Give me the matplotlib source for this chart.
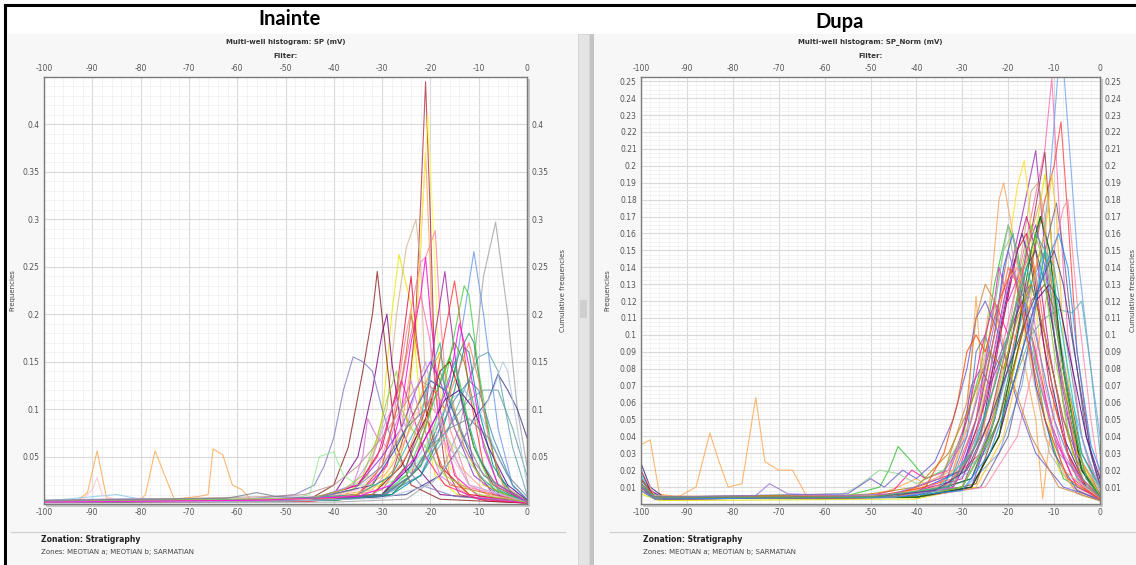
import numpy as np
import matplotlib
matplotlib.use("Agg")
import matplotlib.pyplot as plt
from matplotlib.patches import Rectangle
from matplotlib.lines import Line2D
from matplotlib.ticker import MultipleLocator

plt.rcParams["axes.unicode_minus"] = False

# ---- data: (SP mV, frequency) knots per well ----
inainte_series = [
    [(-100, .003), (-93, .004), (-91, .012), (-89, .056), (-87, .005), (-80, .004), (-79, .01), (-77, .056),
     (-75, .03), (-73, .005), (-68, .008), (-66, .01), (-65, .058), (-63, .052), (-61, .02), (-59, .015),
     (-57, .004), (-50, .005), (-45, .004), (-40, .006), (-35, .01), (-30, .03), (-26, .08), (-23, .18),
     (-21, .37), (-19, .12), (-16, .03), (-12, .008), (-6, .003), (0, .001)],
    [(-100, .002), (-70, .003), (-45, .004), (-35, .01), (-28, .03), (-25, .08), (-23, .2), (-22, .32),
     (-21, .445), (-20, .3), (-19, .12), (-17, .04), (-14, .01), (-8, .003), (0, .001)],
    [(-100, .002), (-60, .003), (-40, .004), (-30, .02), (-25, .08), (-23, .18), (-22, .28), (-20.5, .41),
     (-19.5, .3), (-18, .12), (-16, .04), (-12, .01), (0, .001)],
    [(-100, .002), (-50, .003), (-38, .008), (-33, .03), (-30, .09), (-28, .2), (-26.5, .263), (-24, .21),
     (-22, .1), (-19, .03), (-14, .008), (0, .001)],
    [(-100, .003), (-60, .004), (-40, .006), (-33, .03), (-29, .1), (-27, .2), (-25, .27), (-23, .30),
     (-22, .25), (-21, .12), (-18, .04), (-12, .01), (0, .002)],
    [(-100, .001), (-40, .002), (-25, .005), (-18, .03), (-14, .08), (-11, .15), (-9, .24), (-6.5, .297),
     (-4, .2), (-2, .1), (0, .04)],
    [(-100, .002), (-50, .003), (-30, .008), (-22, .03), (-18, .08), (-15, .14), (-13, .2), (-11, .266),
     (-9, .2), (-6, .08), (-3, .02), (0, .005)],
    [(-100, .002), (-45, .004), (-32, .02), (-28, .08), (-25, .18), (-22, .255), (-21, .26), (-19, .288),
     (-18, .2), (-16, .08), (-12, .02), (-6, .004), (0, .001)],
    [(-100, .002), (-60, .003), (-45, .005), (-40, .02), (-37, .06), (-34, .14), (-32, .2), (-31, .245),
     (-29, .15), (-27, .06), (-24, .02), (-18, .005), (0, .001)],
    [(-100, .002), (-50, .004), (-35, .01), (-29, .04), (-26, .1), (-24, .17), (-22, .22), (-21, .26),
     (-20, .2), (-18, .1), (-15, .03), (-10, .008), (0, .001)],
    [(-100, .002), (-45, .003), (-30, .01), (-25, .04), (-21, .1), (-19, .18), (-17, .245), (-16, .2),
     (-14, .12), (-11, .04), (-7, .01), (0, .002)],
    [(-100, .002), (-45, .003), (-30, .008), (-24, .03), (-20, .1), (-17, .18), (-15, .235), (-14, .2),
     (-12, .12), (-9, .04), (-5, .01), (0, .002)],
    [(-100, .002), (-40, .004), (-28, .01), (-22, .04), (-18, .1), (-15, .18), (-13, .23), (-12, .22),
     (-10, .14), (-7, .05), (-4, .01), (0, .002)],
    [(-100, .002), (-50, .004), (-40, .01), (-35, .05), (-32, .12), (-30, .18), (-29, .2), (-28, .15),
     (-26, .08), (-23, .04), (-18, .01), (0, .002)],
    [(-100, .003), (-60, .004), (-48, .01), (-44, .02), (-42, .04), (-40, .07), (-38, .12), (-36, .155),
     (-34, .15), (-32, .14), (-30, .1), (-27, .05), (-22, .02), (-15, .008), (0, .002)],
    [(-100, .002), (-40, .004), (-25, .01), (-18, .03), (-14, .06), (-11, .09), (-8, .11), (-6, .137),
     (-4, .12), (-2, .1), (0, .07)],
    [(-100, .003), (-50, .004), (-30, .01), (-22, .03), (-17, .07), (-13, .12), (-10, .155), (-8, .16),
     (-6, .14), (-3, .06), (0, .01)],
    [(-100, .002), (-40, .004), (-30, .01), (-25, .04), (-20, .1), (-17, .14), (-15, .17), (-13, .15),
     (-10, .08), (-6, .02), (0, .003)],
    [(-100, .003), (-45, .005), (-32, .02), (-27, .06), (-23, .1), (-20, .13), (-17, .12), (-14, .08),
     (-10, .03), (-5, .008), (0, .002)],
    [(-100, .002), (-45, .004), (-35, .02), (-30, .06), (-27, .12), (-25, .2), (-24, .24), (-23, .18),
     (-21, .1), (-18, .04), (-12, .01), (0, .002)],
    [(-100, .002), (-45, .004), (-36, .02), (-34, .05), (-33, .09), (-31, .07), (-29, .06), (-26, .1),
     (-24, .13), (-22, .09), (-18, .03), (-12, .008), (0, .002)],
    [(-100, .002), (-40, .004), (-28, .01), (-22, .04), (-17, .1), (-14, .16), (-12, .18), (-11, .17),
     (-9, .1), (-6, .03), (-2, .005), (0, .002)],
    [(-100, .003), (-50, .004), (-35, .01), (-30, .04), (-27, .1), (-24, .18), (-22, .22), (-20, .17),
     (-18, .08), (-14, .02), (0, .002)],
    [(-100, .003), (-85, .01), (-80, .005), (-45, .004), (-32, .01), (-25, .03), (-20, .07), (-16, .11),
     (-13, .12), (-10, .1), (-6, .05), (-2, .01), (0, .003)],
    [(-100, .002), (-45, .004), (-35, .01), (-30, .04), (-27, .1), (-25, .16), (-24, .2), (-22, .14),
     (-20, .07), (-16, .02), (0, .002)],
    [(-100, .002), (-40, .004), (-28, .01), (-22, .03), (-18, .07), (-15, .12), (-13, .165), (-12, .16),
     (-10, .1), (-7, .04), (-3, .01), (0, .003)],
    [(-100, .003), (-45, .005), (-35, .02), (-30, .05), (-26, .08), (-23, .12), (-20, .15), (-18, .13),
     (-15, .08), (-11, .03), (-5, .006), (0, .002)],
    [(-100, .002), (-60, .004), (-48, .006), (-45, .01), (-43, .05), (-40, .055), (-38, .03), (-35, .02),
     (-30, .02), (-25, .03), (-20, .06), (-17, .07), (-13, .05), (-8, .02), (0, .003)],
    [(-100, .003), (-45, .005), (-30, .01), (-24, .03), (-19, .06), (-15, .09), (-12, .11), (-9, .12),
     (-6, .12), (-3, .08), (0, .03)],
    [(-100, .002), (-45, .004), (-32, .01), (-26, .04), (-21, .09), (-18, .14), (-16, .15), (-14, .12),
     (-11, .06), (-7, .02), (0, .002)],
    [(-100, .002), (-45, .004), (-32, .01), (-27, .04), (-23, .1), (-20, .14), (-18, .16), (-16, .12),
     (-13, .06), (-9, .02), (0, .002)],
    [(-100, .003), (-45, .004), (-30, .008), (-24, .03), (-19, .07), (-15, .11), (-12, .13), (-10, .12),
     (-7, .07), (-3, .02), (0, .005)],
    [(-100, .002), (-45, .004), (-35, .02), (-31, .05), (-28, .1), (-26, .13), (-24, .1), (-21, .05),
     (-17, .02), (-10, .005), (0, .001)],
    [(-100, .002), (-45, .004), (-30, .01), (-25, .03), (-21, .08), (-18, .13), (-16, .155), (-14, .13),
     (-11, .06), (-7, .015), (0, .002)],
    [(-100, .002), (-45, .004), (-30, .01), (-24, .04), (-20, .08), (-17, .11), (-14, .12), (-11, .1),
     (-8, .06), (-4, .02), (0, .004)],
    [(-100, .003), (-45, .005), (-32, .015), (-28, .04), (-24, .08), (-21, .11), (-18, .09), (-14, .04),
     (-8, .01), (0, .002)],
    [(-100, .002), (-45, .004), (-30, .01), (-24, .03), (-20, .06), (-16, .08), (-12, .09), (-8, .07),
     (-4, .03), (0, .008)],
    [(-100, .002), (-92, .005), (-90, .015), (-89, .028), (-88, .01), (-85, .004), (-60, .004), (-45, .005),
     (-35, .015), (-30, .04), (-26, .08), (-22, .1), (-18, .07), (-12, .02), (0, .002)],
    [(-100, .004), (-80, .006), (-70, .004), (-55, .006), (-42, .008), (-36, .02), (-32, .05), (-29, .09),
     (-27, .11), (-25, .08), (-23, .12), (-21, .15), (-19, .1), (-16, .06), (-12, .02), (0, .002)],
    [(-100, .003), (-75, .004), (-50, .005), (-35, .01), (-28, .03), (-24, .07), (-22, .09), (-20, .14),
     (-18, .17), (-17, .12), (-15, .15), (-13, .1), (-10, .05), (-6, .015), (0, .002)],
    [(-100, .002), (-60, .004), (-40, .006), (-30, .015), (-25, .05), (-22, .09), (-19, .12), (-17, .1),
     (-15, .13), (-12, .17), (-10, .13), (-8, .07), (-5, .02), (0, .003)],
    [(-100, .003), (-65, .005), (-45, .006), (-38, .015), (-34, .03), (-31, .07), (-29, .11), (-27, .14),
     (-26, .1), (-24, .08), (-21, .06), (-17, .03), (-10, .01), (0, .002)],
    [(-100, .002), (-50, .003), (-30, .006), (-20, .02), (-15, .05), (-12, .08), (-9, .1), (-7, .12),
     (-5, .15), (-4, .14), (-2, .08), (0, .02)],
    [(-100, .003), (-70, .006), (-52, .008), (-46, .01), (-40, .02), (-35, .04), (-30, .07), (-26, .1),
     (-22, .13), (-19, .12), (-16, .09), (-12, .05), (-7, .02), (0, .003)],
    [(-100, .002), (-55, .004), (-35, .008), (-28, .02), (-23, .05), (-19, .09), (-16, .13), (-14, .19),
     (-13, .17), (-11, .12), (-9, .06), (-6, .02), (0, .002)],
    [(-100, .004), (-62, .006), (-56, .012), (-52, .008), (-44, .006), (-36, .015), (-30, .04), (-25, .08),
     (-21, .1), (-18, .14), (-16, .11), (-13, .07), (-9, .03), (0, .003)],
]
inainte_colors = [
    "#ffa64d", "#b03040", "#ffff40", "#e8e800", "#d2b48c", "#a0a0a0", "#6495ed", "#ff8099",
    "#8b2020", "#ff00cc", "#a020a0", "#ff3030", "#40d040", "#800080", "#7b7bc0", "#3a3a8a",
    "#5fa0b0", "#6b8e23", "#1f3f9f", "#dc143c", "#da70d6", "#2e8b57", "#ff69b4", "#87ceeb",
    "#d2691e", "#008b8b", "#8a2be2", "#90ee90", "#5f9ea0", "#800000", "#daa520", "#4682b4",
    "#ff1493", "#32cd32", "#4b0082", "#ffa07a", "#778899", "#ffc0cb",
    "#c0a0e0", "#20b2aa", "#ff7f50", "#9acd32", "#b0c4de", "#bc8f8f", "#ff00ff", "#708090",
]

dupa_series = [
    [(-100, .035), (-98, .038), (-96, .006), (-92, .004), (-88, .01), (-85, .042), (-83, .025), (-81, .01),
     (-78, .012), (-75, .063), (-73, .025), (-70, .02), (-67, .02), (-64, .005), (-55, .004), (-48, .006),
     (-44, .01), (-40, .015), (-36, .008), (-32, .02), (-29, .05), (-27, .123), (-25, .04), (-22, .07),
     (-19, .1), (-17, .09), (-14, .05), (-12.5, .003), (-10, .06), (-7, .03), (-4, .01), (0, .002)],
    [(-100, .02), (-98, .008), (-95, .004), (-60, .004), (-40, .006), (-30, .02), (-24, .06), (-19, .12),
     (-15, .17), (-12, .21), (-10.5, .252), (-9, .18), (-7, .1), (-4, .04), (-1, .01), (0, .005)],
    [(-100, .015), (-97, .004), (-60, .003), (-40, .004), (-30, .008), (-22, .03), (-17, .07), (-14, .12),
     (-11, .19), (-9, .26), (-8, .26), (-5, .15), (-2, .08), (0, .04)],
    [(-100, .01), (-97, .004), (-50, .004), (-35, .008), (-26, .03), (-20, .08), (-15, .14), (-12, .18),
     (-10, .2), (-8.5, .226), (-7, .17), (-5, .09), (-2, .03), (0, .01)],
    [(-100, .012), (-97, .003), (-45, .004), (-32, .01), (-26, .05), (-21, .12), (-17, .17), (-14, .209),
     (-13, .18), (-11, .12), (-8, .06), (-4, .02), (0, .005)],
    [(-100, .01), (-97, .003), (-45, .004), (-30, .01), (-24, .05), (-19, .11), (-15, .16), (-12, .208),
     (-11, .17), (-9, .1), (-6, .04), (-2, .01), (0, .004)],
    [(-100, .008), (-96, .003), (-45, .004), (-32, .01), (-27, .04), (-23, .1), (-20, .15), (-18, .188),
     (-16.5, .203), (-15.5, .18), (-14, .12), (-12, .06), (-9, .02), (-4, .005), (0, .002)],
    [(-100, .01), (-97, .003), (-45, .004), (-30, .01), (-24, .04), (-20, .1), (-17, .15), (-15, .185),
     (-13.5, .19), (-12, .17), (-10, .1), (-7, .04), (-3, .01), (0, .003)],
    [(-100, .006), (-96, .002), (-40, .003), (-28, .01), (-22, .04), (-17, .1), (-14, .16), (-12, .195),
     (-11, .17), (-9, .1), (-6, .04), (-2, .01), (0, .003)],
    [(-100, .01), (-97, .003), (-40, .004), (-26, .01), (-20, .04), (-15, .1), (-12, .15), (-9.5, .178),
     (-8, .15), (-6, .1), (-3, .04), (0, .01)],
    [(-100, .008), (-97, .003), (-40, .004), (-25, .01), (-18, .04), (-13, .1), (-10, .15), (-8, .175),
     (-7, .18), (-5, .12), (-2, .05), (0, .015)],
    [(-100, .012), (-97, .004), (-50, .004), (-35, .008), (-25, .03), (-19, .07), (-15, .1), (-12, .11),
     (-9, .115), (-6, .113), (-4, .12), (-2, .08), (0, .03)],
    [(-100, .01), (-97, .004), (-55, .005), (-48, .01), (-46, .02), (-44, .034), (-41, .025), (-38, .015),
     (-34, .02), (-30, .04), (-26, .08), (-23, .13), (-20, .165), (-18, .15), (-15, .1), (-12, .05),
     (-8, .015), (0, .003)],
    [(-100, .01), (-97, .003), (-45, .004), (-32, .01), (-27, .04), (-24, .1), (-21, .15), (-20, .165),
     (-18, .13), (-15, .08), (-11, .03), (-5, .006), (0, .002)],
    [(-100, .024), (-98, .01), (-95, .004), (-45, .004), (-32, .01), (-26, .04), (-22, .1), (-19, .14),
     (-17, .16), (-15, .14), (-12, .09), (-8, .04), (-3, .01), (0, .004)],
    [(-100, .015), (-97, .004), (-45, .004), (-32, .01), (-27, .05), (-24, .1), (-22, .14), (-20, .12),
     (-17, .14), (-15, .1), (-11, .05), (-6, .015), (0, .003)],
    [(-100, .012), (-97, .004), (-45, .005), (-30, .02), (-25, .06), (-21, .11), (-18, .15), (-16, .16),
     (-14, .13), (-11, .07), (-7, .03), (-3, .01), (0, .004)],
    [(-100, .01), (-97, .004), (-45, .004), (-34, .01), (-30, .04), (-28, .07), (-26, .08), (-24, .07),
     (-21, .09), (-18, .12), (-15, .13), (-12, .1), (-8, .05), (-3, .015), (0, .005)],
    [(-100, .014), (-97, .004), (-45, .004), (-33, .01), (-29, .04), (-27, .09), (-25, .1), (-23, .08),
     (-20, .1), (-17, .12), (-14, .1), (-10, .05), (-5, .015), (0, .004)],
    [(-100, .01), (-97, .004), (-45, .004), (-32, .02), (-27, .06), (-24, .12), (-22, .18), (-21, .19),
     (-19, .16), (-16, .1), (-12, .04), (-6, .01), (0, .002)],
    [(-100, .01), (-97, .003), (-40, .004), (-28, .01), (-22, .04), (-18, .09), (-15, .13), (-13, .15),
     (-11, .14), (-8, .08), (-4, .025), (0, .006)],
    [(-100, .015), (-97, .004), (-40, .004), (-28, .015), (-22, .05), (-18, .1), (-15, .14), (-13, .17),
     (-11, .15), (-8, .08), (-4, .02), (0, .005)],
    [(-100, .012), (-97, .004), (-42, .005), (-30, .02), (-26, .06), (-23, .1), (-21, .14), (-19, .16),
     (-17, .13), (-14, .07), (-10, .03), (-5, .008), (0, .002)],
    [(-100, .01), (-97, .004), (-50, .005), (-45, .008), (-41, .02), (-38, .015), (-33, .02), (-29, .05),
     (-26, .09), (-23, .12), (-20, .1), (-17, .12), (-14, .09), (-10, .04), (-5, .01), (0, .003)],
    [(-100, .008), (-97, .003), (-40, .004), (-28, .01), (-23, .05), (-19, .1), (-16, .15), (-14, .165),
     (-12, .14), (-9, .08), (-5, .025), (0, .006)],
    [(-100, .01), (-97, .004), (-40, .004), (-27, .012), (-22, .05), (-18, .09), (-15, .12), (-12, .13),
     (-10, .115), (-7, .07), (-4, .03), (0, .01)],
    [(-100, .012), (-97, .004), (-56, .006), (-53, .01), (-48, .02), (-44, .018), (-40, .012), (-34, .02),
     (-28, .05), (-24, .1), (-21, .15), (-19, .16), (-17, .13), (-13, .07), (-8, .02), (0, .004)],
    [(-100, .01), (-97, .004), (-55, .006), (-50, .015), (-47, .01), (-43, .02), (-40, .015), (-36, .025),
     (-32, .05), (-29, .08), (-27, .11), (-25, .12), (-22, .1), (-18, .06), (-14, .03), (-8, .01), (0, .003)],
    [(-100, .01), (-97, .004), (-45, .004), (-30, .01), (-24, .04), (-19, .09), (-15, .13), (-12, .15),
     (-10, .14), (-7, .09), (-4, .04), (-1, .015), (0, .01)],
    [(-100, .01), (-97, .003), (-45, .004), (-30, .015), (-25, .05), (-21, .11), (-18, .15), (-16, .17),
     (-14, .15), (-11, .09), (-7, .03), (-3, .008), (0, .003)],
    [(-100, .01), (-97, .004), (-40, .005), (-28, .015), (-23, .05), (-19, .1), (-16, .14), (-14, .15),
     (-12, .13), (-8, .07), (-4, .02), (0, .005)],
    [(-100, .008), (-97, .003), (-40, .004), (-27, .01), (-21, .04), (-17, .09), (-14, .14), (-12, .16),
     (-10.5, .195), (-9.5, .17), (-8, .1), (-5, .03), (0, .005)],
    [(-100, .01), (-97, .004), (-45, .004), (-35, .008), (-28, .02), (-23, .05), (-19, .09), (-16, .12),
     (-13, .14), (-10, .12), (-7, .07), (-3, .03), (0, .01)],
    [(-100, .01), (-97, .004), (-45, .005), (-32, .015), (-27, .05), (-23, .1), (-20, .14), (-18, .13),
     (-15, .15), (-13, .12), (-10, .06), (-6, .02), (0, .004)],
    [(-100, .02), (-98, .008), (-95, .003), (-40, .004), (-28, .01), (-22, .04), (-18, .08), (-14, .12),
     (-11, .13), (-9, .12), (-6, .08), (-3, .04), (0, .015)],
    [(-100, .01), (-97, .004), (-40, .004), (-30, .01), (-24, .04), (-20, .09), (-17, .14), (-15, .165),
     (-13, .15), (-10, .09), (-6, .03), (0, .005)],
    [(-100, .01), (-97, .004), (-40, .004), (-28, .01), (-22, .04), (-18, .1), (-15, .15), (-13, .17),
     (-11, .15), (-8, .08), (-4, .02), (0, .004)],
    [(-100, .012), (-97, .004), (-45, .004), (-32, .01), (-27, .04), (-23, .09), (-20, .13), (-18, .14),
     (-15, .12), (-12, .07), (-8, .03), (-3, .008), (0, .003)],
    [(-100, .01), (-97, .004), (-50, .005), (-40, .008), (-33, .02), (-28, .05), (-25, .09), (-21, .13),
     (-18, .14), (-15, .11), (-12, .06), (-8, .02), (0, .003)],
    [(-100, .008), (-97, .003), (-45, .004), (-35, .01), (-29, .06), (-27, .11), (-25, .13), (-23, .12),
     (-20, .08), (-15, .04), (-9, .01), (0, .002)],
    [(-100, .018), (-98, .006), (-94, .004), (-60, .004), (-45, .005), (-35, .01), (-28, .03), (-23, .07),
     (-19, .11), (-16, .14), (-14, .12), (-12, .15), (-10, .13), (-7, .08), (-4, .03), (0, .008)],
    [(-100, .012), (-97, .004), (-70, .005), (-62, .004), (-50, .006), (-40, .01), (-33, .03), (-28, .06),
     (-24, .09), (-21, .08), (-18, .11), (-15, .13), (-12, .1), (-8, .05), (-4, .015), (0, .004)],
    [(-100, .02), (-97, .005), (-65, .004), (-45, .005), (-32, .012), (-26, .04), (-22, .08), (-18, .12),
     (-15, .16), (-13, .18), (-11, .14), (-8, .07), (-5, .03), (0, .008)],
    [(-100, .01), (-97, .004), (-50, .004), (-36, .008), (-29, .02), (-24, .05), (-20, .08), (-16, .11),
     (-13, .13), (-10, .15), (-8, .13), (-5, .08), (-2, .03), (0, .012)],
    [(-100, .015), (-97, .004), (-50, .004), (-38, .01), (-34, .03), (-31, .06), (-29, .09), (-27, .1),
     (-25, .09), (-22, .12), (-19, .14), (-16, .1), (-12, .05), (-7, .015), (0, .003)],
    [(-100, .008), (-97, .003), (-45, .004), (-30, .008), (-24, .03), (-19, .07), (-15, .11), (-12, .14),
     (-9, .16), (-7, .14), (-5, .09), (-2, .035), (0, .02)],
    [(-100, .01), (-97, .004), (-75, .005), (-72, .012), (-68, .006), (-55, .005), (-45, .006), (-35, .015),
     (-29, .04), (-25, .08), (-22, .12), (-20, .15), (-18, .13), (-14, .08), (-9, .03), (0, .004)],
    [(-100, .012), (-97, .004), (-50, .004), (-33, .01), (-27, .035), (-23, .07), (-20, .1), (-17, .13),
     (-14, .16), (-12, .15), (-10, .11), (-6, .05), (-3, .015), (0, .005)],
]
dupa_colors = [
    "#ffa64d", "#ff69b4", "#6fa0f0", "#ff4040", "#9b30b0", "#a03050", "#ffe020", "#c8aa7a",
    "#e0e000", "#6a5a8a", "#ff88aa", "#5fb0b0", "#30c030", "#b0b0b0", "#202080", "#e020c0",
    "#dc143c", "#8040c0", "#4682b4", "#f4a460", "#808000", "#2e8b57", "#3050e0", "#ff1493",
    "#9932cc", "#8b4513", "#90d090", "#6a5acd", "#5f9ea0", "#c71585", "#2f4f4f", "#ffc020",
    "#87a8f0", "#ff6347", "#4b0082", "#7cd020", "#006400", "#da70d6", "#ffb090", "#cd853f",
    "#00ced1", "#b8860b", "#e9967a", "#483d8b", "#ff4500", "#1e90ff", "#9370db", "#3cb371",
]

inainte_yticks = [0.05, 0.1, 0.15, 0.2, 0.25, 0.3, 0.35, 0.4]
dupa_yticks = [round(0.01 * k, 2) for k in range(1, 26)]
x_ticks = list(range(-100, 1, 10))

W, H = 1136, 565
fig = plt.figure(figsize=(W / 100, H / 100), dpi=100)
fig.patch.set_facecolor("white")


def rect(x0, y0, x1, y1, z=-2, **kw):
    # rectangle given in screenshot pixel coords (top-left origin)
    fig.add_artist(Rectangle((x0 / W, 1 - y1 / H), (x1 - x0) / W, (y1 - y0) / H,
                             transform=fig.transFigure, zorder=z, **kw))


def hline(x0, x1, y, **kw):
    fig.add_artist(Line2D([x0 / W, x1 / W], [1 - y / H, 1 - y / H], transform=fig.transFigure, **kw))


def vline(x, y0, y1, **kw):
    fig.add_artist(Line2D([x / W, x / W], [1 - y0 / H, 1 - y1 / H], transform=fig.transFigure, **kw))


def txt(x, y, s, **kw):
    fig.text(x / W, 1 - y / H, s, **kw)


# window chrome
rect(8, 34, 578, 565, facecolor="#f7f7f7", edgecolor="none")
rect(594, 34, 1136, 565, facecolor="#f7f7f7", edgecolor="none")
rect(578, 34, 589, 565, facecolor="#e4e4e4", edgecolor="#d0d0d0", lw=0.6)
rect(580, 300, 587, 318, facecolor="#cfcfcf", edgecolor="none")
rect(590, 34, 594, 565, facecolor="#c4c4c4", edgecolor="none")
hline(5, 1136, 5, color="black", lw=2.2)
vline(5, 5, 565, color="black", lw=2.2)

txt(290, 19, "Inainte", fontsize=14.5, fontweight="bold", family="Lato", ha="center", va="center")
txt(840, 22, "Dupa", fontsize=14.5, fontweight="bold", family="Lato", ha="center", va="center")


def draw_panel(series, colors, x0, x1, top, bottom, ymax, yticks, yminor, sub, lab_left_x, lab_right_x, foot_x,
               sep):
    rect(x0 + 2, top + 2, x1 + 3, bottom + 3, z=-1, facecolor="#c8c8c8", edgecolor="none")
    ax = fig.add_axes([x0 / W, 1 - bottom / H, (x1 - x0) / W, (bottom - top) / H])
    ax.set_facecolor("white")
    for pts, c in zip(series, colors):
        xs = [p[0] for p in pts]
        ys = [p[1] for p in pts]
        ax.plot(xs, ys, color=c, lw=0.8, alpha=0.8)
    ax.set_xlim(-100, 0)
    ax.set_ylim(0, ymax)
    ax.set_xticks(x_ticks)
    ax.set_yticks(yticks)
    ax.set_yticklabels(["%g" % v for v in yticks])
    ax.xaxis.set_minor_locator(MultipleLocator(2))
    ax.yaxis.set_minor_locator(MultipleLocator(yminor))
    ax.grid(which="major", color="#d9d9d9", lw=0.8)
    ax.grid(which="minor", color="#efefef", lw=0.5)
    ax.set_axisbelow(True)
    ax.tick_params(which="both", length=0, labelsize=5.5, labelcolor="#555555", top=True, labeltop=True,
                   right=True, labelright=True, pad=3)
    for s in ax.spines.values():
        s.set_color("#7a7a7a")
        s.set_linewidth(1.0)
    cx = (x0 + x1) / 2
    txt(cx, 42, sub, fontsize=5, fontweight="bold", color="#333333", ha="center", va="center")
    txt(cx, 56, "Filter:", fontsize=5, fontweight="bold", color="#333333", ha="center", va="center")
    txt(lab_left_x, (top + bottom) / 2, "Frequencies", fontsize=5, color="#444444", rotation=90,
        ha="center", va="center")
    txt(lab_right_x, (top + bottom) / 2, "Cumulative frequencies", fontsize=5, color="#444444", rotation=90,
        ha="center", va="center")
    hline(sep[0], sep[1], 532, color="#d0d0d0", lw=0.9)
    txt(foot_x, 540, "Zonation: Stratigraphy", fontsize=5.5, fontweight="bold", color="#222222", va="center")
    txt(foot_x, 552, "Zones: MEOTIAN a; MEOTIAN b; SARMATIAN", fontsize=5, color="#444444", va="center")
    return ax


draw_panel(inainte_series, inainte_colors, 44, 527, 77, 504, 0.45, inainte_yticks, 0.01,
           "Multi-well histogram: SP (mV)", 12, 563, 41, (11, 565))
draw_panel(dupa_series, dupa_colors, 641, 1100, 77, 504, 0.2525, dupa_yticks, 0.0025,
           "Multi-well histogram: SP_Norm (mV)", 607, 1133, 643, (610, 1136))

fig.savefig("out.png", dpi=100)
